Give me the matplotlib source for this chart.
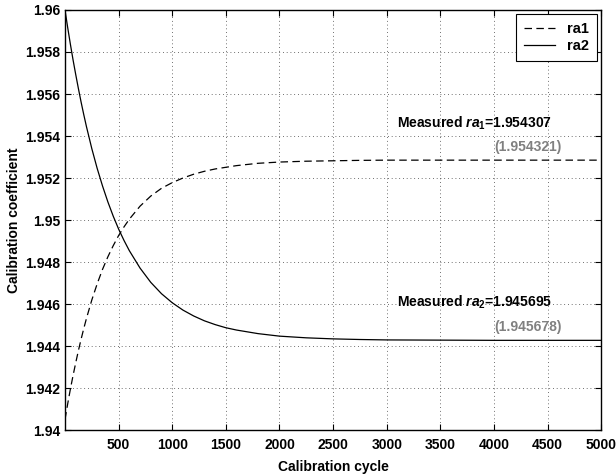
import numpy as np
import matplotlib
matplotlib.use("Agg")
import matplotlib.pyplot as plt

plt.rcParams['font.family'] = ['Liberation Sans', 'DejaVu Sans']
plt.rcParams['font.weight'] = 'bold'
plt.rcParams['mathtext.fontset'] = 'custom'
plt.rcParams['mathtext.it'] = 'Liberation Sans:italic:bold'
plt.rcParams['mathtext.rm'] = 'Liberation Sans:bold'

# values
cycle = [0, 25, 50, 75, 100, 125, 150, 175, 200, 250, 300, 350, 400, 450, 500,
         550, 600, 700, 800, 900, 1000, 1100, 1200, 1300, 1400, 1500, 1600,
         1800, 2000, 2250, 2500, 2750, 3000, 3500, 4000, 4500, 5000]
ra1 = [1.94050, 1.94124, 1.94194, 1.94259, 1.94320, 1.94378, 1.94432, 1.94483,
       1.94531, 1.94619, 1.94696, 1.94765, 1.94825, 1.94878, 1.94926, 1.94967,
       1.95004, 1.95066, 1.95114, 1.95151, 1.95178, 1.95200, 1.95218, 1.95232,
       1.95243, 1.95251, 1.95259, 1.95270, 1.95276, 1.95280, 1.95282, 1.95284,
       1.95285, 1.95285, 1.95285, 1.95285, 1.95285]
ra2 = [1.96000, 1.95917, 1.95838, 1.95763, 1.95693, 1.95626, 1.95562, 1.95502,
       1.95445, 1.95340, 1.95246, 1.95162, 1.95086, 1.95018, 1.94957, 1.94903,
       1.94854, 1.94771, 1.94703, 1.94649, 1.94606, 1.94571, 1.94543, 1.94520,
       1.94502, 1.94487, 1.94476, 1.94459, 1.94447, 1.94439, 1.94434, 1.94431,
       1.94429, 1.94428, 1.94427, 1.94427, 1.94427]

measured = ["1.954307", "1.945695"]
predicted = ["1.954321", "1.945678"]

fig = plt.figure(figsize=(6.16, 4.76), dpi=100)
ax = fig.add_axes([0.1055, 0.0966, 0.8705, 0.8824])

ax.plot(cycle, ra1, color='black', lw=0.9, dashes=(6, 3.5), label='ra1')
ax.plot(cycle, ra2, color='black', lw=0.9, label='ra2')

ax.set_xlim(0, 5000)
ax.set_ylim(1.94, 1.96)
ax.set_xticks(np.arange(500, 5001, 500))
yt = np.arange(1.94, 1.96001, 0.002)
ax.set_yticks(yt)
ax.set_yticklabels(['%g' % round(v, 3) for v in yt])
ax.tick_params(direction='in', top=True, right=True, labelsize=10, length=4, width=0.8)
ax.tick_params(axis='x', pad=5.5)
ax.grid(True, linestyle=(0, (1, 3.5)), color='black', lw=0.6, alpha=0.75)
for s in ax.spines.values():
    s.set_linewidth(1.0)

ax.set_xlabel('Calibration cycle', fontsize=10, fontweight='bold', labelpad=6)
ax.set_ylabel('Calibration coefficient', fontsize=10, fontweight='bold', labelpad=3)

ax.text(3097, 1.95462, r'Measured $ra_{\mathit{1}}$=' + measured[0], fontsize=10,
        fontweight='bold', va='center', ha='left')
ax.text(4319, 1.95349, '(' + predicted[0] + ')', fontsize=10,
        fontweight='bold', color='#808080', va='center', ha='center')
ax.text(3097, 1.94610, r'Measured $ra_{\mathit{2}}$=' + measured[1], fontsize=10,
        fontweight='bold', va='center', ha='left')
ax.text(4319, 1.94492, '(' + predicted[1] + ')', fontsize=10,
        fontweight='bold', color='#808080', va='center', ha='center')

leg = ax.legend(loc='upper right', fontsize=10.5, fancybox=False, framealpha=1,
                edgecolor='black', borderaxespad=0.28, handlelength=2.1,
                handletextpad=0.85, borderpad=0.55, labelspacing=0.2)
leg.get_frame().set_linewidth(0.8)
for t in leg.get_texts():
    t.set_fontweight('bold')

fig.savefig('out.png', dpi=100)
